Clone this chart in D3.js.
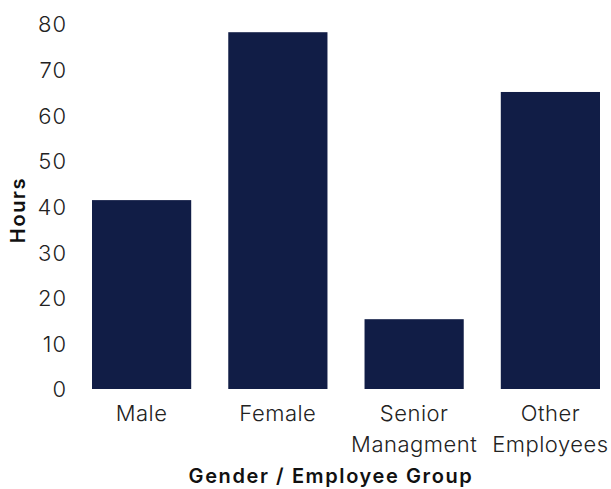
<!DOCTYPE html>
<html><head><meta charset="utf-8">
<script src="https://cdn.jsdelivr.net/npm/d3@7"></script>
<style>body{margin:0;background:#fff}</style>
</head><body>
<svg id="c" width="611" height="489"></svg>
<script>
const categories = [["Male"], ["Female"], ["Senior", "Managment"], ["Other", "Employees"]];
const hours = [41.4, 78.2, 15.3, 65.1];
const yTicks = [0, 10, 20, 30, 40, 50, 60, 70, 80];

const svg = d3.select("#c");
const font = "Inter, sans-serif";
const keys = categories.map(c => c.join(" "));
const x = d3.scaleBand().domain(keys).range([92, 600]).paddingInner(0.272).paddingOuter(0);
const y = d3.scaleLinear().domain([0, 80]).range([389, 24]);

svg.selectAll("rect.bar").data(hours).join("rect")
  .attr("class", "bar")
  .attr("x", (d, i) => x(keys[i]))
  .attr("width", x.bandwidth())
  .attr("y", d => y(d))
  .attr("height", d => y(0) - y(d))
  .attr("fill", "#111d46");

const yAxis = svg.append("g").attr("transform", "translate(67,0)")
  .call(d3.axisLeft(y).tickValues(yTicks).tickSize(0).tickPadding(0));
yAxis.select(".domain").remove();
yAxis.selectAll("text").attr("font-family", font).attr("font-size", 22).attr("font-weight", 300)
  .attr("letter-spacing", 1).attr("fill", "#222").attr("dy", "0.36em");

const xAxis = svg.append("g").attr("transform", "translate(0,389)")
  .call(d3.axisBottom(x).tickSize(0).tickPadding(0));
xAxis.select(".domain").remove();
xAxis.selectAll("text").each(function(d, i) {
  const t = d3.select(this).text(null).attr("font-family", font).attr("font-size", 22).attr("font-weight", 300)
    .attr("letter-spacing", 0.5).attr("fill", "#222").attr("dy", null).attr("y", 0);
  categories[i].forEach((line, j) => {
    t.append("tspan").attr("x", 0).attr("y", 32 + j * 31).text(line);
  });
});

svg.append("text").attr("x", 331).attr("y", 483).attr("text-anchor", "middle")
  .attr("font-family", font).attr("font-size", 20).attr("font-weight", 600).attr("letter-spacing", 1.6).attr("fill", "#111")
  .text("Gender / Employee Group");
svg.append("text").attr("transform", "translate(25,210) rotate(-90)").attr("text-anchor", "middle")
  .attr("font-family", font).attr("font-size", 20).attr("font-weight", 600).attr("letter-spacing", 1.6).attr("fill", "#111")
  .text("Hours");
</script>
</body></html>
